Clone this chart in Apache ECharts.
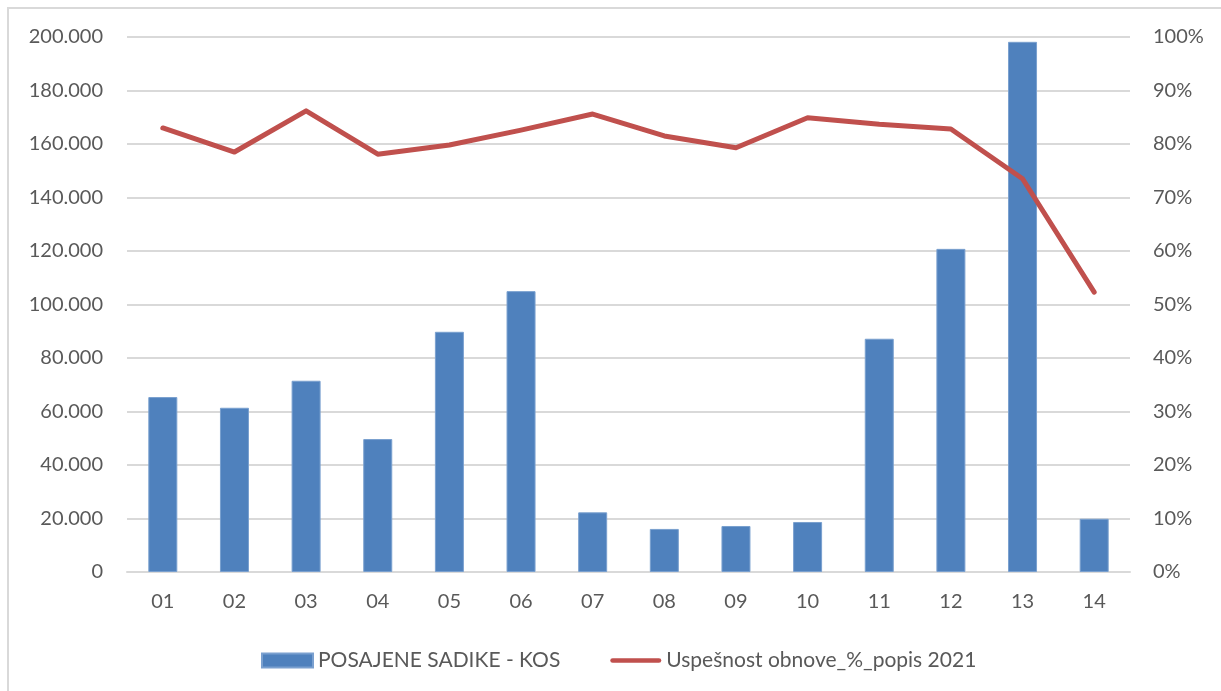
<!DOCTYPE html>
<html>
<head>
<meta charset="utf-8">
<script src="https://cdn.jsdelivr.net/npm/echarts@6/dist/echarts.min.js"></script>
<style>
  html, body { margin: 0; padding: 0; background: #fff; }
  #frame { position: absolute; left: 7px; top: 7px; width: 1214px; height: 684px;
           border-left: 2px solid #d9d9d9; border-top: 2px solid #d9d9d9; }
  #chart { position: absolute; left: 0; top: 0; width: 1221px; height: 691px; }
</style>
</head>
<body>
<div id="frame"></div>
<div id="chart"></div>
<script>
// podatki odčitani s slike
const categories = ['01', '02', '03', '04', '05', '06', '07', '08', '09', '10', '11', '12', '13', '14'];
const seedlings = [65400, 61400, 71500, 49700, 89800, 105000, 22300, 16100, 17200, 18700, 87200, 120800, 198200, 19900];
const successPct = [83.0, 78.5, 86.2, 78.1, 79.8, 82.6, 85.6, 81.5, 79.3, 84.9, 83.7, 82.8, 73.5, 52.3];

const barName = 'POSAJENE SADIKE - KOS';
const lineName = 'Uspešnost obnove_%_popis 2021';

const font = 'Lato, "Open Sans", sans-serif';
const textColor = '#595959';
const gridColor = '#d9d9d9';

const chart = echarts.init(document.getElementById('chart'));
chart.setOption({
  animation: false,
  textStyle: { fontFamily: font },
  grid: { left: 127, right: 91, top: 37, bottom: 119, containLabel: false },
  legend: {
    top: 645,
    left: 256,
    itemWidth: 51,
    itemHeight: 14,
    itemGap: 50,
    textStyle: { fontFamily: font, fontSize: 21, color: textColor },
    data: [
      { name: barName, icon: 'rect' },
      { name: lineName, icon: 'path://M2.5,0 L52.5,0 A2.5,2.5 0 0 1 52.5,5 L2.5,5 A2.5,2.5 0 0 1 2.5,0 Z' }
    ]
  },
  xAxis: {
    type: 'category',
    data: categories,
    axisLine: { lineStyle: { color: gridColor, width: 2 } },
    axisTick: { show: false },
    axisLabel: { color: textColor, fontSize: 20, margin: 20, fontFamily: font }
  },
  yAxis: [
    {
      type: 'value', min: 0, max: 200000, interval: 20000,
      axisLine: { show: false }, axisTick: { show: false },
      splitLine: { lineStyle: { color: gridColor, width: 2 } },
      axisLabel: {
        color: textColor, fontSize: 20, margin: 24, fontFamily: font,
        formatter: v => v === 0 ? '0' : (v / 1000).toFixed(0) + '.000'
      }
    },
    {
      type: 'value', min: 0, max: 100, interval: 10,
      axisLine: { show: false }, axisTick: { show: false },
      splitLine: { show: false },
      axisLabel: { color: textColor, fontSize: 20, margin: 23, fontFamily: font, formatter: '{value}%' }
    }
  ],
  series: [
    {
      name: barName,
      type: 'bar',
      data: seedlings,
      barWidth: 29,
      itemStyle: { color: '#4f81bd', borderColor: '#7aa0cf', borderWidth: 1 }
    },
    {
      name: lineName,
      type: 'line',
      yAxisIndex: 1,
      data: successPct,
      symbol: 'none',
      lineStyle: { color: '#c0504d', width: 5, cap: 'round', join: 'round' },
      itemStyle: { color: '#c0504d' }
    }
  ]
});
</script>
</body>
</html>
